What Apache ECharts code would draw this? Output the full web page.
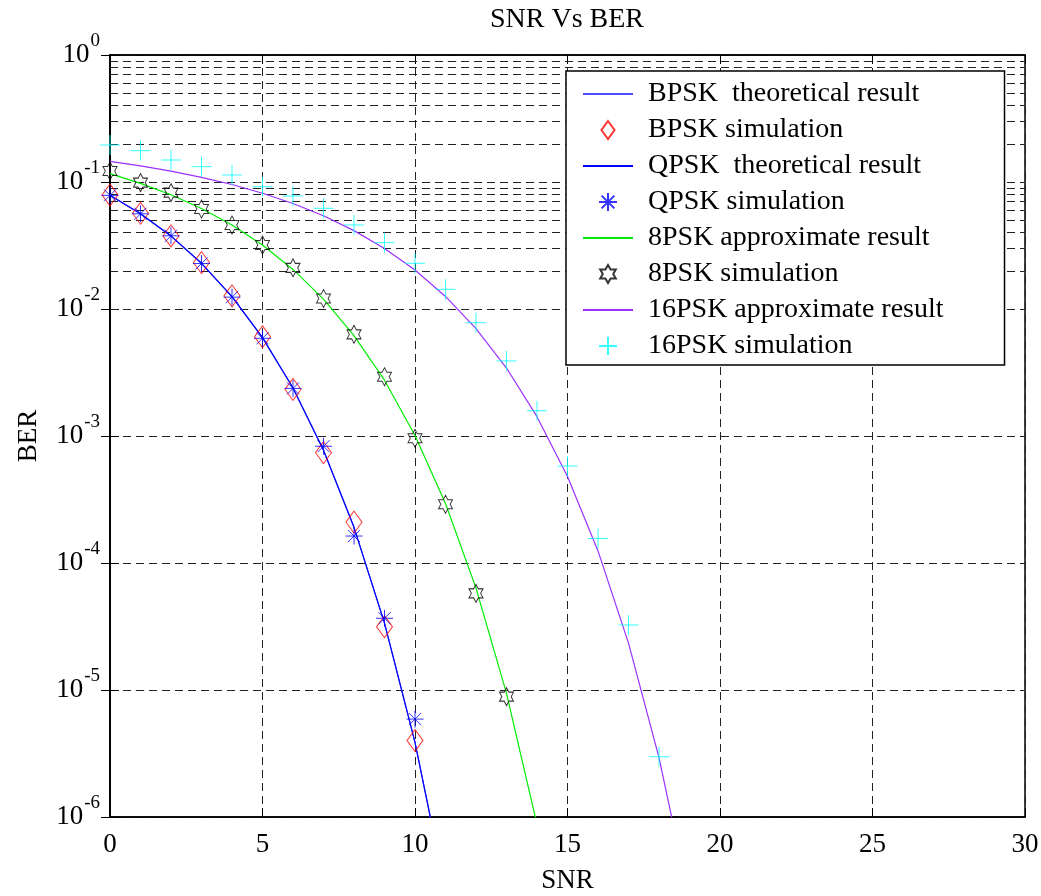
<!DOCTYPE html>
<html>
<head>
<meta charset="utf-8">
<title>SNR Vs BER</title>
<script src="https://cdn.jsdelivr.net/npm/echarts@6/dist/echarts.min.js"></script>
<style>
  html, body { margin: 0; padding: 0; background: #fff; }
  #chart { width: 1041px; height: 896px; }
</style>
</head>
<body>
<div id="chart"></div>
<script>
// SNR in dB (shared x values, each series uses as many as it has points)
const SNR = [0, 1, 2, 3, 4, 5, 6, 7, 8, 9, 10, 11, 12, 13, 14, 15, 16, 17, 18, 19];

// theoretical / approximate curves
const BPSK_THEORY = [0.0786, 0.0563, 0.0375, 0.0229, 0.0125, 0.00595, 0.00239, 7.73e-4, 1.91e-4, 3.36e-5, 3.87e-6, 2.61e-7];
const QPSK_THEORY = [0.0786, 0.0563, 0.0375, 0.0229, 0.0125, 0.00595, 0.00239, 7.73e-4, 1.91e-4, 3.36e-5, 3.87e-6, 2.61e-7];
const PSK8_APPROX = [0.1163, 0.0976, 0.0793, 0.0618, 0.0458, 0.0319, 0.0205, 0.01195, 0.00618, 0.00275, 1.01e-3, 2.94e-4, 6.34e-5, 9.4e-6, 8.75e-7, 4.5e-8];
const PSK16_APPROX = [0.1453, 0.134, 0.1218, 0.1089, 0.0955, 0.0816, 0.0677, 0.0542, 0.0414, 0.03, 0.0203, 0.01256, 0.00701, 0.00343, 0.00142, 4.79e-4, 1.245e-4, 2.34e-5, 2.93e-6, 2.19e-7];

// simulated points
const BPSK_SIM = [0.079, 0.0567, 0.0376, 0.0232, 0.0127, 0.00605, 0.00233, 7.4e-4, 2.1e-4, 3.15e-5, 4.0e-6];
const QPSK_SIM = [0.0785, 0.0562, 0.0377, 0.0228, 0.0124, 0.00588, 0.00237, 8.3e-4, 1.63e-4, 3.67e-5, 5.9e-6];
const PSK8_SIM = [0.122, 0.0988, 0.0824, 0.0613, 0.0459, 0.0319, 0.0211, 0.0121, 0.00632, 0.00293, 9.6e-4, 2.9e-4, 5.77e-5, 8.86e-6];
const PSK16_SIM = [0.1955, 0.1765, 0.149, 0.132, 0.1135, 0.0918, 0.0776, 0.0621, 0.0459, 0.0333, 0.0229, 0.0143, 0.0078, 0.0039, 0.00158, 5.8e-4, 1.56e-4, 3.25e-5, 2.98e-6];

// axes
const X_TICKS = [0, 5, 10, 15, 20, 25, 30];
const Y_MIN = 1e-6;
const Y_MAX = 1;
const MINOR_MULTIPLES = [2, 3, 4, 5, 6, 7, 8, 9];

const LEGEND_NAMES = [
  'BPSK  theoretical result',
  'BPSK simulation',
  'QPSK  theoretical result',
  'QPSK simulation',
  '8PSK approximate result',
  '8PSK simulation',
  '16PSK approximate result',
  '16PSK simulation'
];

const FONT = '"Liberation Serif", "Times New Roman", serif';

// marker shapes (matlab style)
const DIAMOND = 'path://M0,-11 L8,0 L0,11 L-8,0 Z';
const ASTERISK = 'path://M-9,0 L9,0 M0,-9 L0,9 M-6.4,-6.4 L6.4,6.4 M-6.4,6.4 L6.4,-6.4';
const HEXAGRAM = 'path://M0,-10 L2.89,-5 L8.66,-5 L5.77,0 L8.66,5 L2.89,5 L0,10 L-2.89,5 L-8.66,5 L-5.77,0 L-8.66,-5 L-2.89,-5 Z';
const PLUS = 'path://M-10,0 L10,0 M0,-10 L0,10';

function pairs(values) {
  return values.map((v, i) => [SNR[i], v]);
}

// dashed minor grid lines of the log axis
const minorLines = [];
for (let k = -6; k < 0; k++) {
  MINOR_MULTIPLES.forEach(m => {
    minorLines.push({ yAxis: m * Math.pow(10, k) });
  });
}

const gridDash = { color: '#222', width: 1, type: [8, 5] };

function lineSeries(name, values, color) {
  return {
    name: name,
    type: 'line',
    data: pairs(values),
    symbol: 'none',
    clip: true,
    lineStyle: { color: color, width: 1.2 },
    itemStyle: { color: color },
    emphasis: { disabled: true },
    z: 3
  };
}

function scatterSeries(name, values, symbol, size, color) {
  return {
    name: name,
    type: 'scatter',
    data: pairs(values),
    symbol: symbol,
    symbolSize: size,
    itemStyle: { color: 'rgba(0,0,0,0)', borderColor: color, borderWidth: 1 },
    emphasis: { disabled: true },
    z: 4
  };
}

const chart = echarts.init(document.getElementById('chart'), null, { renderer: 'canvas' });

const bpskLine = lineSeries(LEGEND_NAMES[0], BPSK_THEORY, '#4d4dff');
bpskLine.markLine = {
  silent: true,
  symbol: 'none',
  animation: false,
  label: { show: false },
  lineStyle: gridDash,
  data: minorLines,
  z: 1
};

const noDot = { opacity: 0 };

const option = {
  animation: false,
  backgroundColor: '#fff',
  title: {
    text: 'SNR Vs BER',
    left: 567,
    textAlign: 'center',
    top: 6,
    padding: 0,
    textStyle: { fontFamily: FONT, fontSize: 28, fontWeight: 'normal', color: '#000' }
  },
  grid: {
    left: 110,
    right: 16,
    top: 55,
    bottom: 79,
    outerBoundsMode: 'none',
    show: true,
    borderColor: '#000',
    borderWidth: 1.5,
    backgroundColor: '#fff'
  },
  legend: {
    orient: 'vertical',
    left: 566,
    top: 71,
    padding: [5, 61, 1, 16],
    itemWidth: 50,
    itemHeight: 18,
    itemGap: 0,
    backgroundColor: '#fff',
    borderColor: '#000',
    borderWidth: 1.5,
    selectedMode: false,
    textStyle: { fontFamily: FONT, fontSize: 28, color: '#000', lineHeight: 36, padding: [0, 0, 0, 10] },
    data: [
      { name: LEGEND_NAMES[0], itemStyle: noDot },
      { name: LEGEND_NAMES[1], icon: DIAMOND },
      { name: LEGEND_NAMES[2], itemStyle: noDot },
      { name: LEGEND_NAMES[3], icon: ASTERISK },
      { name: LEGEND_NAMES[4], itemStyle: noDot },
      { name: LEGEND_NAMES[5], icon: HEXAGRAM },
      { name: LEGEND_NAMES[6], itemStyle: noDot },
      { name: LEGEND_NAMES[7], icon: PLUS }
    ]
  },
  xAxis: [{
    type: 'value',
    min: X_TICKS[0],
    max: X_TICKS[X_TICKS.length - 1],
    interval: 5,
    name: 'SNR',
    nameLocation: 'middle',
    nameGap: 50,
    nameTextStyle: { fontFamily: FONT, fontSize: 27, color: '#000' },
    axisLine: { onZero: false, lineStyle: { color: '#000', width: 1.5 } },
    axisTick: { inside: true, length: 9, lineStyle: { color: '#000' } },
    axisLabel: { fontFamily: FONT, fontSize: 27, color: '#000', margin: 14 },
    splitLine: { show: true, lineStyle: gridDash }
  }, {
    type: 'value',
    position: 'top',
    min: X_TICKS[0],
    max: X_TICKS[X_TICKS.length - 1],
    interval: 5,
    axisLine: { onZero: false, lineStyle: { color: '#000', width: 1.5 } },
    axisTick: { inside: true, length: 9, lineStyle: { color: '#000' } },
    axisLabel: { show: false },
    splitLine: { show: false }
  }],
  yAxis: [{
    type: 'log',
    logBase: 10,
    min: Y_MIN,
    max: Y_MAX,
    splitNumber: 6,
    name: 'BER',
    nameLocation: 'middle',
    nameGap: 68,
    nameTextStyle: { fontFamily: FONT, fontSize: 27, color: '#000' },
    axisLine: { show: true, lineStyle: { color: '#000', width: 1.5 } },
    axisTick: { inside: true, length: 9, lineStyle: { color: '#000' } },
    axisLabel: {
      margin: 10,
      formatter: function (v) {
        const e = Math.round(Math.log10(v));
        return '{b|10}{s|' + e + '}';
      },
      rich: {
        b: { fontFamily: FONT, fontSize: 27, color: '#000', lineHeight: 27 },
        s: { fontFamily: FONT, fontSize: 19, color: '#000', lineHeight: 19, padding: [0, 0, 28, 1] }
      }
    },
    splitLine: { show: true, lineStyle: gridDash }
  }, {
    type: 'log',
    logBase: 10,
    min: Y_MIN,
    max: Y_MAX,
    splitNumber: 6,
    position: 'right',
    axisLine: { show: true, lineStyle: { color: '#000', width: 1.5 } },
    axisTick: { inside: true, length: 9, lineStyle: { color: '#000' } },
    axisLabel: { show: false },
    splitLine: { show: false }
  }],
  series: [
    bpskLine,
    scatterSeries(LEGEND_NAMES[1], BPSK_SIM, DIAMOND, [16, 22], '#ff0000'),
    lineSeries(LEGEND_NAMES[2], QPSK_THEORY, '#0000ff'),
    scatterSeries(LEGEND_NAMES[3], QPSK_SIM, ASTERISK, [17, 17], '#0000ff'),
    lineSeries(LEGEND_NAMES[4], PSK8_APPROX, '#00ee00'),
    scatterSeries(LEGEND_NAMES[5], PSK8_SIM, HEXAGRAM, [14, 18], '#000000'),
    lineSeries(LEGEND_NAMES[6], PSK16_APPROX, '#9b30ff'),
    scatterSeries(LEGEND_NAMES[7], PSK16_SIM, PLUS, [20, 20], '#00ffff')
  ]
};

chart.setOption(option);
</script>
</body>
</html>
